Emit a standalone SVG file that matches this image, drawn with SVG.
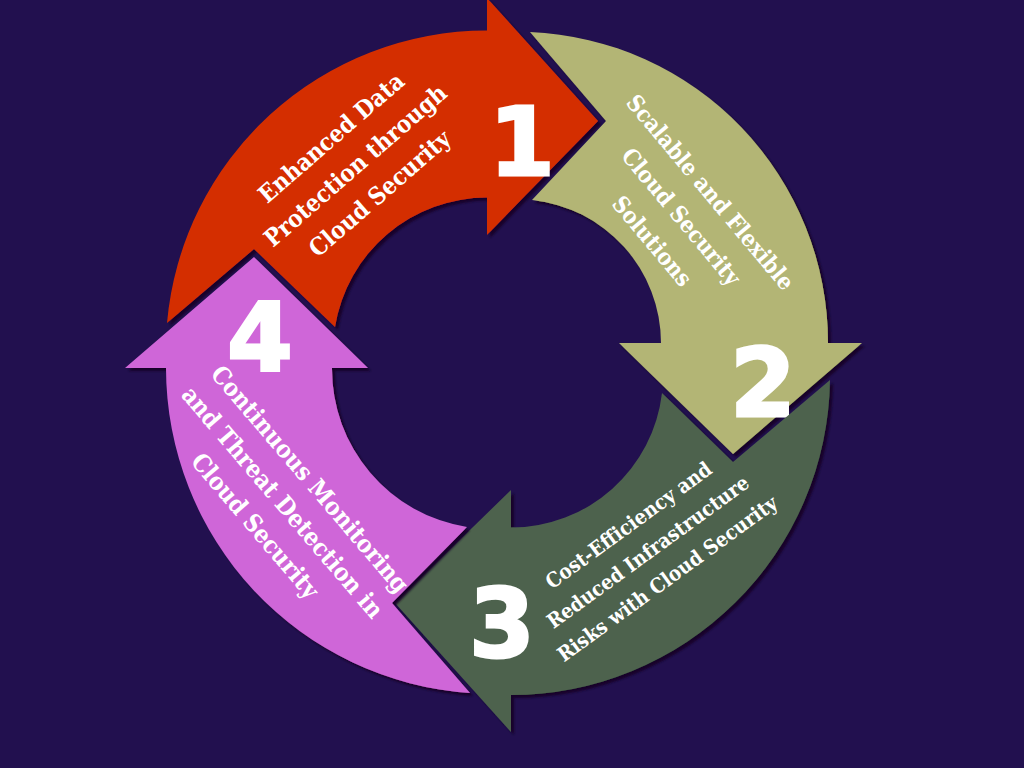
<svg xmlns="http://www.w3.org/2000/svg" width="1024" height="768" viewBox="0 0 1024 768">
<defs>
<filter id="sh" x="-10%" y="-10%" width="130%" height="130%">
<feDropShadow dx="3" dy="3" stdDeviation="1" flood-color="#120628" flood-opacity="0.95"/>
</filter>
<style>
.arrow{filter:url(#sh);}
.lbl{font-family:"DejaVu Serif Condensed","DejaVu Serif","Liberation Serif",serif;font-weight:bold;fill:#ffffff;text-anchor:middle;dominant-baseline:central;}
.num{font-family:"DejaVu Sans","Liberation Sans",sans-serif;font-weight:bold;font-size:94px;fill:#ffffff;stroke:#ffffff;stroke-width:3;stroke-linejoin:miter;text-anchor:middle;}
</style>
</defs>
<rect width="1024" height="768" fill="#22104f"/>
<g id="connectors"></g>
<g id="node1">
<path class="arrow" fill="#d42f04" d="M167,323 A321,321 0 0 1 487,30.5 L487,-2 L598,121 L487,235 L487,197.5 A154,154 0 0 0 335,327 L254,249 Z"/>
<text class="lbl" font-size="24" transform="translate(355,165) rotate(-41)"><tspan x="0" y="-37">Enhanced Data</tspan><tspan x="0" y="0">Protection through</tspan><tspan x="0" y="37">Cloud Security</tspan></text>
<text class="num" x="522" y="175">1</text>
</g>
<g id="node2">
<path class="arrow" fill="#b3b574" d="M530,32 A311,311 0 0 1 828,343 L862,343 L733,454 L619,343 L661,343 A144,144 0 0 0 532,200 L606,121 Z"/>
<text class="lbl" font-size="23" transform="translate(682,216) rotate(50)"><tspan x="0" y="-38">Scalable and Flexible</tspan><tspan x="0" y="0">Cloud Security</tspan><tspan x="0" y="38">Solutions</tspan></text>
<text class="num" x="763" y="416">2</text>
</g>
<g id="node3">
<path class="arrow" fill="#4d624d" d="M830,380 A319.5,319.5 0 0 1 511,695 L511,732 L395,603 L511,490 L511,527.5 A152,152 0 0 0 662,393 L733,462 Z"/>
<text class="lbl" font-size="20.5" transform="translate(648,552) rotate(-36)"><tspan x="0" y="-33">Cost-Efficiency and</tspan><tspan x="0" y="0">Reduced Infrastructure</tspan><tspan x="0" y="33">Risks with Cloud Security</tspan></text>
<text class="num" x="502" y="657">3</text>
</g>
<g id="node4">
<path class="arrow" fill="#cf66d8" d="M470,693 A326,326 0 0 1 166,368 L125,368 L254,257 L368,368 L332,368 A160,160 0 0 0 467,527 L392,603 Z"/>
<text class="lbl" font-size="24.5" transform="translate(283,502) rotate(49.5)"><tspan x="0" y="-36">Continuous Monitoring</tspan><tspan x="0" y="0">and Threat Detection in</tspan><tspan x="0" y="36">Cloud Security</tspan></text>
<text class="num" x="260" y="371">4</text>
</g>
</svg>
